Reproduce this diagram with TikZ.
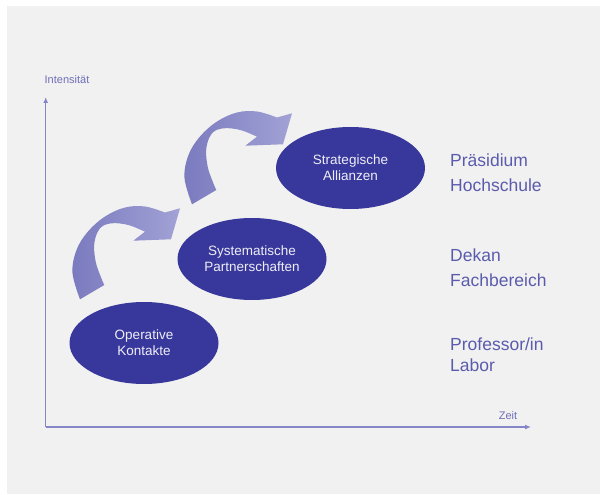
\documentclass[tikz,border=0pt]{standalone}
\usepackage{fontspec}
\setmainfont{Liberation Sans}
\usetikzlibrary{shapes.geometric,arrows.meta}
\definecolor{bggray}{HTML}{F1F1F1}
\definecolor{ellfill}{HTML}{38389C}
\definecolor{elltext}{HTML}{EEEEF6}
\definecolor{axiscol}{HTML}{8585C8}
\definecolor{axtext}{HTML}{6E6EB8}
\definecolor{labcol}{HTML}{5B5BAE}
\definecolor{arrdark}{HTML}{7A7ABF}
\definecolor{arrlight}{HTML}{A2A2D6}
\tikzset{
  stage/.style={ellipse, fill=ellfill, text=elltext, inner sep=0pt,
    minimum width=149bp, minimum height=82bp, align=center,
    font=\fontsize{13.5bp}{16bp}\selectfont},
  rlabel/.style={anchor=base west, inner sep=0pt, text=labcol,
    font=\fontsize{17.5bp}{21bp}\selectfont},
  axlabel/.style={inner sep=0pt, text=axtext, font=\fontsize{11bp}{13bp}\selectfont},
  axisline/.style={draw=axiscol, line width=1.4bp, -{Latex[length=6bp,width=5bp]}},
  bigarrow/.style={left color=arrdark, right color=arrlight, draw=none}
}
\newcommand{\curvedarrow}{%
  \path[bigarrow]
    plot[smooth, tension=0.6] coordinates {(80,299.3) (72.5,273) (76.5,250) (88,231.5) (105,216.5) (125,207.5) (145,206.5) (165,212.5)}
    -- (180,208.3) -- (171,239.3) -- (133.3,240.7)
    -- plot[smooth, tension=0.6] coordinates {(145,231.7) (128.3,225) (111.7,223.3) (100,228.3) (94.3,243.3) (95.7,261.7) (101,277.3) (104.3,285)}
    -- cycle;}
\begin{document}
\begin{tikzpicture}[x=1bp,y=-1bp]
\useasboundingbox (0,0) rectangle (600,495);
\fill[bggray] (7,6) rectangle (600,494);
% axes
\coordinate (origin) at (45.7,427);
\coordinate (ytop) at (45.7,97);
\coordinate (xend) at (531,427);
\draw[axisline] (origin) -- (ytop);
\draw[axisline] (origin) -- (xend);
\node[axlabel] (intens) at (67,80) {Intensität};
\node[axlabel] (zeit) at (508,416) {Zeit};
% curved arrows
\begin{scope}
  \curvedarrow
\end{scope}
\begin{scope}[shift={(112,-95)}]
  \curvedarrow
\end{scope}
% stages
\node[stage] (op) at (144,343) {Operative\\Kontakte};
\node[stage] (sys) at (252,259) {Systematische\\Partnerschaften};
\node[stage] (str) at (350.5,168) {Strategische\\Allianzen};
% right labels
\node[rlabel] (l1a) at (450,166.7) {Präsidium};
\node[rlabel] (l1b) at (450,191.7) {Hochschule};
\node[rlabel] (l2a) at (450,261.7) {Dekan};
\node[rlabel] (l2b) at (450,286.7) {Fachbereich};
\node[rlabel] (l3a) at (450,350) {Professor/in};
\node[rlabel] (l3b) at (450,371.7) {Labor};
\end{tikzpicture}
\end{document}
